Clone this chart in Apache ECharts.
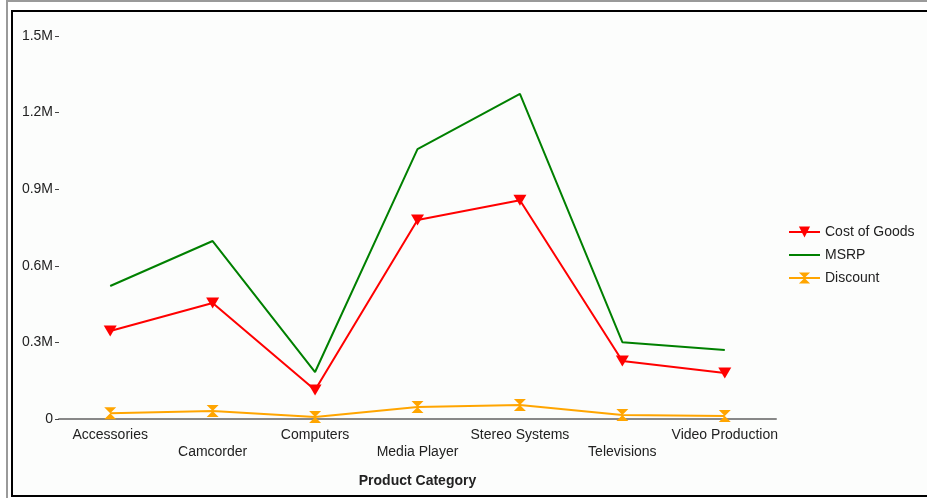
<!DOCTYPE html>
<html>
<head>
<meta charset="utf-8">
<script src="https://cdn.jsdelivr.net/npm/echarts@6/dist/echarts.min.js"></script>
<style>
    html, body { margin: 0; padding: 0; background: #ffffff; }
    #main { width: 927px; height: 498px; }
</style>
</head>
<body>
<div id="main"></div>
<script>
// 数据
var categories = ['Accessories', 'Camcorder', 'Computers', 'Media Player', 'Stereo Systems', 'Televisions', 'Video Production'];
var costOfGoods = [345000, 454000, 114000, 779000, 857000, 227000, 180000];
var msrp = [521000, 697000, 184000, 1057000, 1273000, 301000, 270000];
var discount = [23000, 31000, 8000, 47000, 55000, 16000, 12000];

var hourglass = 'path://M0,0 L10,0 L5,5 L10,10 L0,10 L5,5 Z';
var fontName = 'Liberation Sans, Arial, sans-serif';

var chart = echarts.init(document.getElementById('main'));

var option = {
    backgroundColor: '#ffffff',
    animation: false,
    textStyle: { fontFamily: fontName },
    graphic: [
        { type: 'rect', z: -10, shape: { x: 7, y: 1, width: 930, height: 510 }, style: { fill: '#ffffff', stroke: '#9a9a9a', lineWidth: 2 } },
        { type: 'rect', z: -9, shape: { x: 12, y: 11, width: 925, height: 485 }, style: { fill: '#fcfdfc', stroke: '#000000', lineWidth: 2 } }
    ],
    legend: {
        orient: 'vertical',
        left: 788,
        top: 225,
        padding: 0,
        itemWidth: 31,
        itemHeight: 14,
        itemGap: 9,
        textStyle: { fontSize: 14, color: '#222', fontFamily: fontName },
        data: [
            'Cost of Goods',
            { name: 'MSRP', icon: 'path://M0,6 L31,6 L31,8 L0,8 Z' },
            'Discount'
        ]
    },
    grid: { left: 59, right: 151, top: 36, bottom: 79 },
    xAxis: {
        type: 'category',
        data: categories,
        name: 'Product Category',
        nameLocation: 'middle',
        nameGap: 55,
        nameTextStyle: { fontSize: 14, fontWeight: 'bold', color: '#222', fontFamily: fontName },
        axisLine: { lineStyle: { color: '#888', width: 2 } },
        axisTick: { alignWithLabel: true, length: 4, lineStyle: { color: '#444' } },
        axisLabel: {
            interval: 0,
            margin: 8,
            fontSize: 14,
            color: '#222',
            lineHeight: 17,
            formatter: function (v, i) {
                return i % 2 ? '\n' + v : v;
            }
        }
    },
    yAxis: {
        type: 'value',
        min: 0,
        max: 1500000,
        interval: 300000,
        axisLine: { show: false },
        axisTick: { show: true, length: 4, lineStyle: { color: '#444' } },
        splitLine: { show: false },
        axisLabel: {
            fontSize: 14,
            color: '#222',
            margin: 6,
            formatter: function (v) {
                return v === 0 ? '0' : (v / 1000000).toFixed(1) + 'M';
            }
        }
    },
    series: [
        {
            name: 'Cost of Goods',
            type: 'line',
            data: costOfGoods,
            color: '#ff0000',
            symbol: 'triangle',
            symbolRotate: 180,
            symbolSize: [13, 11],
            lineStyle: { width: 2 },
            z: 3
        },
        {
            name: 'MSRP',
            type: 'line',
            data: msrp,
            color: '#008000',
            symbol: 'none',
            lineStyle: { width: 2 },
            z: 2
        },
        {
            name: 'Discount',
            type: 'line',
            data: discount,
            color: '#ffa500',
            symbol: hourglass,
            symbolSize: [12, 12],
            lineStyle: { width: 2 },
            z: 4
        }
    ]
};

chart.setOption(option);
</script>
</body>
</html>
